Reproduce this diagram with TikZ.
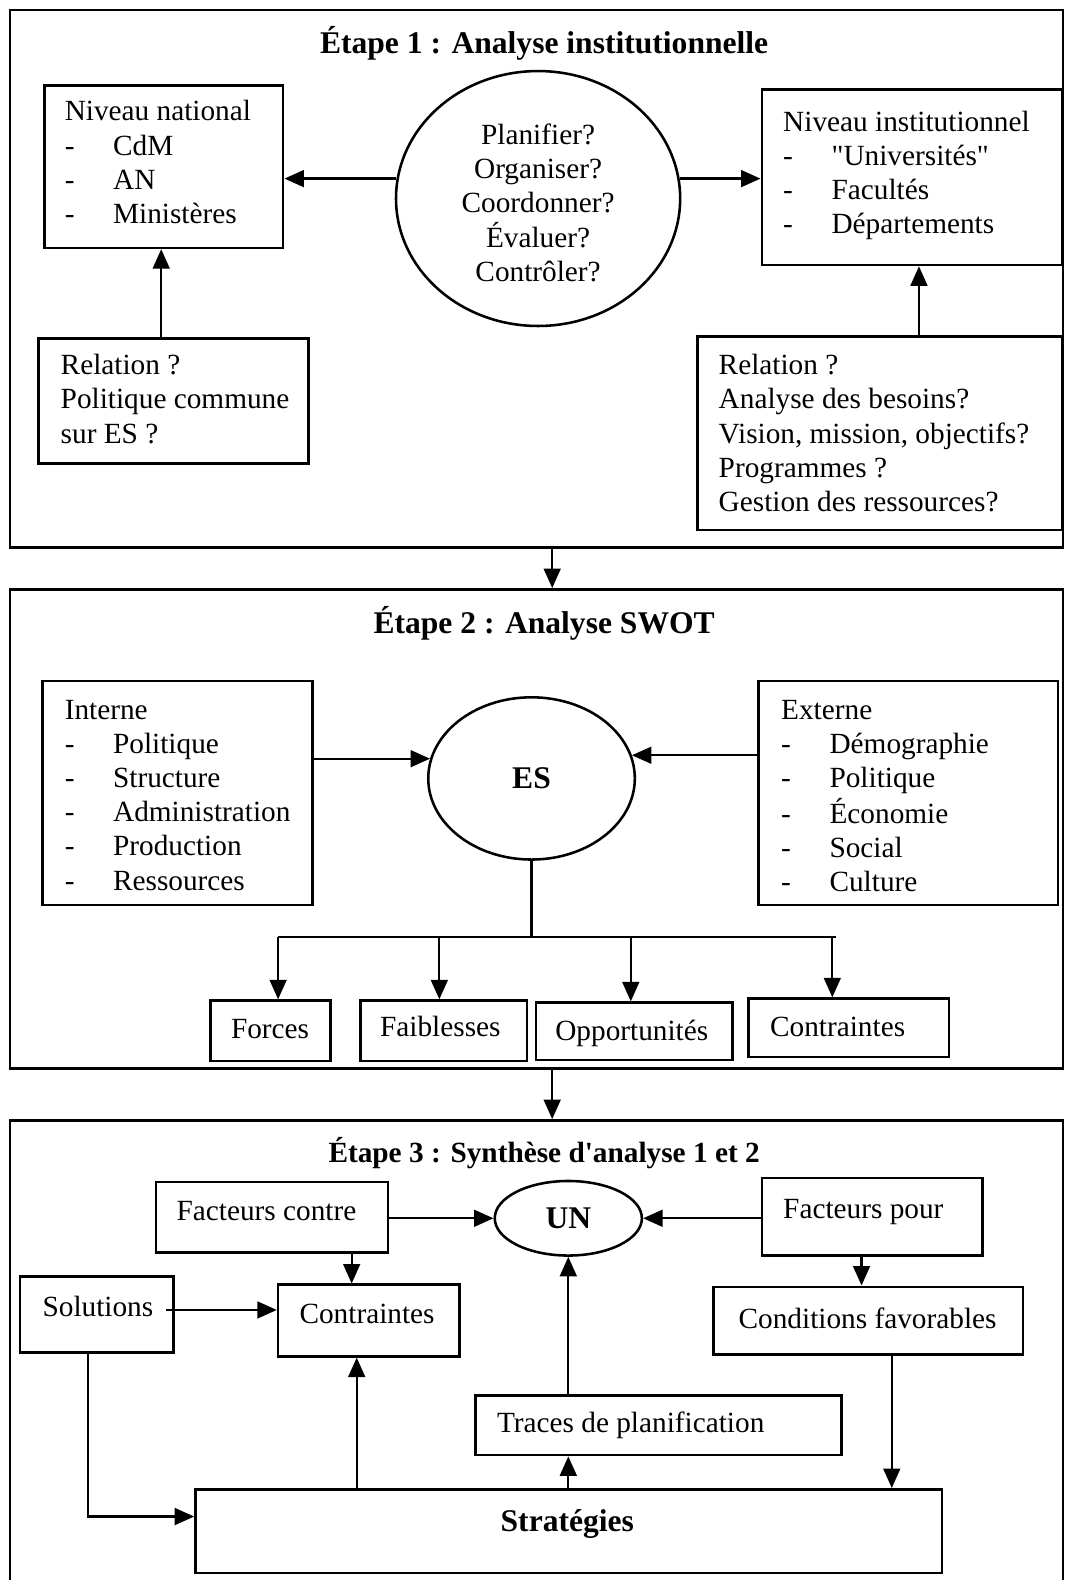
\documentclass[tikz,border=0pt]{standalone}
\usepackage{fontspec}
\setmainfont{Liberation Serif}[Ligatures=TeXOff]
\usetikzlibrary{arrows.meta,shapes.geometric,fit}

\newcommand\bodysize{\fontsize{21.8pt}{25.4pt}\selectfont}
\newcommand\headsize{\fontsize{23.5pt}{28pt}\selectfont\bfseries}
\newcommand\itm{\makebox[36pt][l]{-}}
\newcommand\linesof[2][l]{\begin{tabular}[t]{@{}#1@{}}#2\end{tabular}}

\begin{document}
\begin{tikzpicture}[x=0.75pt, y=-0.75pt,
  stagebox/.style={draw, line width=2.1pt, inner sep=0pt},
  cell/.style={draw, line width=1.9pt, inner sep=0pt},
  oval/.style={draw, ellipse, line width=1.9pt, inner sep=0pt},
  lbl/.style={inner sep=0pt, font=\bodysize, anchor=base west},
  ttl/.style={inner sep=0pt, font=\headsize, anchor=base},
  arr/.style={-{Triangle[length=14.5pt,width=12.5pt]}, line width=1.7pt},
  wire/.style={line width=1.7pt}]

\useasboundingbox (0,0) rectangle (1057,1568);
\fill[white] (0,0) rectangle (1057,1568);

% ---------- the three stage frames ----------
\node[stagebox, fit={(10,10) (1055,543)}] (s1) {};
\node[stagebox, fit={(10,585) (1055,1060)}] (s2) {};
\node[stagebox, fit={(10,1112) (1055,1575)}] (s3) {};

\coordinate (xs) at (548,0);
\draw[arr] (s1.south -| xs) -- (s2.north -| xs);
\draw[arr] (s2.south -| xs) -- (s3.north -| xs);

% ---------- stage 1 ----------
\node[ttl] (t1) at (540,53) {Étape 1 : Analyse institutionnelle};

\node[cell, fit={(44,85) (281,246)}] (nat) {};
\node[lbl] (natT) at (64,120) {\linesof{Niveau national\\ \itm CdM\\ \itm AN\\ \itm Ministères}};

\node[oval, minimum width=211.5pt, minimum height=189.75pt] (ask) at (534,197) {};
\node[lbl, anchor=base] (askT) at (534,143) {\linesof[c]{Planifier?\\ Organiser?\\ Coordonner?\\ Évaluer?\\ Contrôler?}};

\node[cell, fit={(756,89) (1054,263)}] (inst) {};
\node[lbl] (instT) at (777,130) {\linesof{Niveau institutionnel\\ \itm "Universités"\\ \itm Facultés\\ \itm Départements}};

\node[cell, fit={(38,336) (306,460)}] (relA) {};
\node[lbl] (relAT) at (60,372) {\linesof{Relation ?\\ Politique commune\\ sur ES ?}};

\node[cell, fit={(692,334) (1054,526)}] (relB) {};
\node[lbl] (relBT) at (713,372) {\linesof{Relation ?\\ Analyse des besoins?\\ Vision, mission, objectifs?\\ Programmes ?\\ Gestion des ressources?}};

\draw[arr] (ask.172) -- (ask.172 -| nat.east);
\draw[arr] (ask.8) -- (ask.8 -| inst.west);
\coordinate (xa) at (160,0);
\coordinate (xb) at (912,0);
\draw[arr] (relA.north -| xa) -- (nat.south -| xa);
\draw[arr] (relB.north -| xb) -- (inst.south -| xb);

% ---------- stage 2 ----------
\node[ttl] (t2) at (540,629) {Étape 2 : Analyse SWOT};

\node[cell, fit={(42,676) (310,898)}] (int) {};
\node[lbl] (intT) at (64,714) {\linesof{Interne\\ \itm Politique\\ \itm Structure\\ \itm Administration\\ \itm Production\\ \itm Ressources}};

\node[oval, minimum width=153.75pt, minimum height=120.75pt, font=\headsize] (es) at (527.5,772.5) {ES};

\node[cell, fit={(753,676) (1050,898)}] (ext) {};
\node[lbl] (extT) at (775,714) {\linesof{Externe\\ \itm Démographie\\ \itm Politique\\ \itm Économie\\ \itm Social\\ \itm Culture}};

\draw[arr] (es.169 -| int.east) -- (es.169);
\draw[arr] (es.13 -| ext.west) -- (es.13);

\node[cell, fit={(209,993) (328,1053)}] (fo) {};
\node[lbl, anchor=base] (foT) at (268,1031) {Forces};
\node[cell, fit={(358,993) (523,1053)}] (fa) {};
\node[lbl, anchor=base] (faT) at (437,1029) {Faiblesses};
\node[cell, fit={(532,995) (727,1052)}] (op) {};
\node[lbl, anchor=base] (opT) at (627,1033) {Opportunités};
\node[cell, fit={(743,991) (942,1049)}] (co) {};
\node[lbl] (coT) at (764,1029) {Contraintes};

\coordinate (b1) at (276,930);
\coordinate (b2) at (436,930);
\coordinate (b3) at (626,930);
\coordinate (b4) at (826,930);
\coordinate (b5) at (830,930);
\draw[wire] (es.south) -- (es.south |- b1);
\draw[wire] (b1) -- (b5);
\draw[arr] (b1) -- (b1 |- fo.north);
\draw[arr] (b2) -- (b2 |- fa.north);
\draw[arr] (b3) -- (b3 |- op.north);
\draw[arr] (b4) -- (b4 |- co.north);

% ---------- stage 3 ----------
\node[inner sep=0pt, font=\bodysize\bfseries, anchor=base] (t3) at (540,1154) {Étape 3 : Synthèse d'analyse 1 et 2};

\node[cell, fit={(155,1173) (385,1243)}] (fc) {};
\node[lbl] (fcT) at (175,1211) {Facteurs contre};
\node[oval, minimum width=109.5pt, minimum height=55.5pt, font=\headsize] (un) at (564,1209) {UN};
\node[cell, fit={(756,1169) (975,1246)}] (fp) {};
\node[lbl] (fpT) at (777,1209) {Facteurs pour};

\node[cell, fit={(20,1267) (172,1342)}] (sol) {};
\node[lbl] (solT) at (42,1306) {Solutions};
\node[cell, fit={(276,1275) (456,1346)}] (ct) {};
\node[lbl] (ctT) at (297,1313) {Contraintes};
\node[cell, fit={(708,1277) (1015,1344)}] (cf) {};
\node[lbl, anchor=base] (cfT) at (861,1318) {Conditions favorables};

\node[cell, fit={(472,1385) (835,1444)}] (tp) {};
\node[lbl] (tpT) at (493,1422) {Traces de planification};

\node[cell, fit={(194,1478) (935,1561)}] (st) {};
\node[lbl, anchor=base, font=\headsize] (stT) at (563,1520) {Stratégies};

\draw[arr] (fc.east |- un.west) -- (un.west);
\draw[arr] (fp.west |- un.east) -- (un.east);
\coordinate (xfc) at (349,0);
\draw[arr] (fc.south -| xfc) -- (ct.north -| xfc);
\coordinate (xfp) at (855,0);
\draw[arr] (fp.south -| xfp) -- (cf.north -| xfp);
\coordinate (solout) at (165,1300);
\draw[arr] (solout) -- (solout -| ct.west);
\draw[arr] (tp.north -| un.south) -- (un.south);
\draw[arr] (st.north -| un.south) -- (tp.south -| un.south);
\coordinate (xst) at (354,0);
\draw[arr] (st.north -| xst) -- (ct.south -| xst);
\coordinate (xcf) at (885,0);
\draw[arr] (cf.south -| xcf) -- (st.north -| xcf);
\coordinate (solturn) at (87,1505);
\draw[arr] (sol.south -| solturn) -- (solturn) -- (solturn -| st.west);

\end{tikzpicture}
\end{document}
